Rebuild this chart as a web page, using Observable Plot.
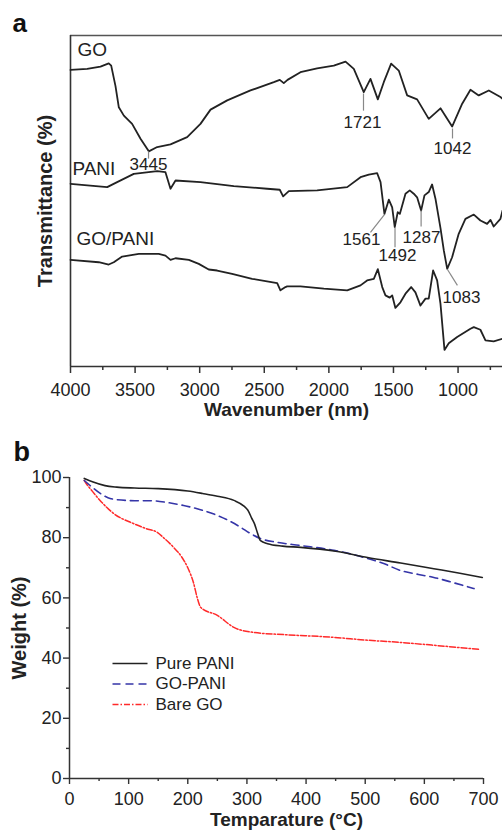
<!DOCTYPE html>
<html><head><meta charset="utf-8">
<script src="https://cdn.jsdelivr.net/npm/d3@7"></script>
<script src="https://cdn.jsdelivr.net/npm/@observablehq/plot@0.6"></script>
<style>
body{margin:0;background:#fff;}
#wrap{position:relative;width:502px;height:830px;overflow:hidden;background:#fff;}
#pa,#pb{position:absolute;left:0;}
#pa{top:0;} #pb{top:420px;}
</style></head><body><div id="wrap"><div id="pa"></div><div id="pb"></div></div>
<script>
// ---------- Panel a: FTIR spectra (transmittance, arbitrary units 0-100) ----------
const goWn = [4000,3871,3768,3704,3685,3652,3626,3587,3523,3458,3394,3329,3226,3097,2994,2916,2787,2607,2426,2380,2349,2320,2220,2091,1962,1871,1807,1730,1678,1621,1575,1518,1459,1394,1317,1227,1136,1046,968,904,840,762,672,656];
const goT  = [89.6,89.9,90.6,91.6,90.9,84.8,78.3,75.8,73.3,68.8,65.0,66.3,67.1,69.3,73.3,77.6,80.4,83.4,85.9,86.6,85.6,86.6,88.9,90.1,90.9,92.1,89.9,82.9,86.9,80.7,85.9,91.5,89.4,81.9,80.7,74.8,78.0,72.5,79.4,83.6,81.9,83.4,81.4,80.9];

const paniWn = [4000,3716,3639,3510,3329,3265,3226,3187,2994,2736,2478,2380,2354,2310,2091,1858,1755,1691,1626,1600,1570,1536,1510,1490,1467,1451,1440,1407,1374,1343,1317,1286,1260,1227,1201,1175,1136,1110,1084,1046,995,943,878,827,775,749,724,672,656];
const paniT  = [55.2,54.2,55.7,58.2,59.0,58.7,53.7,56.2,55.7,54.5,53.7,53.4,51.4,53.0,53.2,54.2,57.2,58.0,58.4,55.7,46.1,50.4,48.1,42.1,46.6,46.1,47.6,52.2,53.2,52.2,51.1,47.1,51.7,52.7,55.0,50.7,41.8,35.0,29.5,33.0,40.1,44.6,45.9,44.1,43.1,44.3,42.3,44.6,47.1];

const gpWn = [4000,3781,3704,3665,3600,3471,3317,3265,3226,3187,3084,3007,2930,2865,2749,2594,2400,2375,2336,2323,2220,2039,1858,1755,1704,1652,1621,1587,1562,1529,1510,1485,1446,1407,1363,1330,1291,1252,1227,1193,1162,1136,1105,1072,1007,904,878,827,788,724,656];
const gpT  = [32.2,31.5,30.8,31.5,33.2,34.0,34.0,33.5,32.2,32.7,32.2,31.0,29.3,29.0,28.0,26.5,25.2,23.0,24.0,24.2,24.2,23.5,23.0,24.5,26.0,26.5,29.4,24.0,21.5,20.8,21.5,17.7,19.4,22.0,24.0,22.4,18.4,20.5,20.5,29.0,26.0,18.9,5.0,7.0,8.9,11.4,11.9,11.1,7.9,7.6,8.4];

const seriesLabelsA = ["GO","PANI","GO/PANI"];
const peakLabels = ["3445","1721","1042","1561","1492","1287","1083"];
const majorTicksA = [4000,3500,3000,2500,2000,1500,1000];
const minorTicksA = [3750,3250,2750,2250,1750,1250,750];

// ---------- Panel b: TGA ----------
const pureT = [25,40,60,80,110,150,200,225,250,278,295,302,308,313,318,323,335,360,391,450,504,560,616,660,698];
const pureW = [99.7,98.5,97.3,96.8,96.5,96.3,95.5,94.7,93.8,92.4,90.5,89,86.5,84.5,81.5,79,78,77.2,76.8,75.5,73.4,71.6,69.7,68.2,66.8];
const goPaniT = [25,40,52,65,81,110,137,165,193,220,250,270,289,305,323,350,391,447,504,530,560,590,616,650,684];
const goPaniW = [99,96.5,94.7,93.3,92.6,92.3,92.3,91.7,90.7,89.4,87.4,85.6,83.5,81.5,79.7,78.5,77.4,75.8,73.1,71.5,69.1,67.8,66.8,65,63.1];
const bareT = [25,30,35,52,75,108,130,149,159,176,190,200,210,216,222,250,278,312,362,447,500,560,620,692];
const bareW = [99,97.5,96.3,92.3,88,84.7,83,81.7,80,76.8,73.5,70,64.8,60,56.8,54.2,50.2,48.5,47.8,46.9,46,45.2,44.2,42.9];
const legendNames = ["Pure PANI","GO-PANI","Bare GO"];
const majorTicksX = [0,100,200,300,400,500,600,700];
const minorTicksX = [50,150,250,350,450,550,650];
const majorTicksY = [0,20,40,60,80,100];
const minorTicksY = [10,30,50,70,90];

const FONT = "'Liberation Sans', Arial, Helvetica, sans-serif";
const INK = "#222";
const zipA = (w, t) => w.map((v, i) => ({w: v, t: t[i]}));

// label layout (in data units of panel a)
const serLay = [{w:3946,t:95.5},{w:3985,t:59.8},{w:3954,t:38.4}];
const peakLay = [
  {w:3396,t:61.0, x1:3396,y1:65.0,x2:3396,y2:62.8},
  {w:1740,t:73.7, x1:1732,y1:82.5,x2:1732,y2:77.3},
  {w:1043,t:65.9, x1:1043,y1:71.9,x2:1043,y2:68.9},
  {w:1748,t:38.4, x1:1570,y1:45.9,x2:1678,y2:40.5},
  {w:1469,t:33.5, x1:1488,y1:42.0,x2:1488,y2:36.0},
  {w:1283,t:39.0, x1:1286,y1:47.1,x2:1286,y2:42.3},
  {w:974, t:20.8, x1:1082,y1:29.3,x2:1005,y2:24.5}
];
const peakData = peakLabels.map((l, i) => ({label: l, ...peakLay[i]}));
const serData = seriesLabelsA.map((l, i) => ({label: l, ...serLay[i]}));

const pa = Plot.plot({
  width: 502, height: 420,
  marginLeft: 70, marginRight: 0, marginTop: 35, marginBottom: 54,
  style: {fontFamily: FONT, fontSize: "18px", color: INK, background: "#fff", overflow: "visible"},
  x: {domain: [4000, 656], axis: null},
  y: {domain: [0, 100], axis: null},
  marks: [
    Plot.ruleY([100], {stroke: "#555", strokeWidth: 1.6}),
    Plot.ruleX([4000], {stroke: "#333", strokeWidth: 1.6}),
    Plot.ruleY([0], {stroke: "#333", strokeWidth: 1.6}),
    Plot.axisX(majorTicksA, {anchor: "bottom", tickSize: 7, tickPadding: 10, fontSize: 18, label: null, stroke: "#333", strokeWidth: 1.5, tickFormat: d => String(d)}),
    Plot.axisX(minorTicksA, {anchor: "bottom", tickSize: 4, label: null, stroke: "#333", strokeWidth: 1.5, tickFormat: () => ""}),
    Plot.line(zipA(goWn, goT), {x: "w", y: "t", stroke: INK, strokeWidth: 1.8}),
    Plot.line(zipA(paniWn, paniT), {x: "w", y: "t", stroke: INK, strokeWidth: 1.8}),
    Plot.line(zipA(gpWn, gpT), {x: "w", y: "t", stroke: INK, strokeWidth: 1.8}),
    Plot.link(peakData, {x1: "x1", y1: "y1", x2: "x2", y2: "y2", stroke: "#888", strokeWidth: 1.2}),
    Plot.text(peakData, {x: "w", y: "t", text: "label", fontSize: 17, fill: INK, lineAnchor: "middle"}),
    Plot.text(serData, {x: "w", y: "t", text: "label", fontSize: 19, fill: INK, textAnchor: "start", lineAnchor: "middle"}),
    Plot.text(["a"], {frameAnchor: "top-left", dx: -58, dy: -12, fontSize: 26, fontWeight: "bold", fill: "#111", textAnchor: "start", lineAnchor: "middle"}),
    Plot.text(["Wavenumber (nm)"], {frameAnchor: "bottom", dy: 43, fontSize: 19, fontWeight: "bold", fill: INK, textAnchor: "middle", lineAnchor: "middle"}),
    Plot.text(["Transmittance (%)"], {frameAnchor: "left", dx: -25, rotate: -90, fontSize: 20, fontWeight: "bold", fill: INK, textAnchor: "middle", lineAnchor: "middle"})
  ]
});
document.getElementById("pa").appendChild(pa);

const zipB = (x, y) => x.map((v, i) => ({T: v, W: y[i]}));
const legStyles = [
  {stroke: "#222", dash: null},
  {stroke: "#3535a8", dash: "8,5"},
  {stroke: "#ff2a2a", dash: "6,2,1.5,2"}
];
const legData = legendNames.map((n, i) => ({name: n, y: 38.2 - i * 6.8}));

const pb = Plot.plot({
  width: 502, height: 410,
  marginLeft: 69, marginRight: 19, marginTop: 57, marginBottom: 52,
  style: {fontFamily: FONT, fontSize: "18px", color: INK, background: "#fff", overflow: "visible"},
  x: {domain: [0, 700], axis: null},
  y: {domain: [0, 100], axis: null},
  marks: [
    Plot.ruleX([0], {y1: 0, y2: 100, stroke: "#333", strokeWidth: 1.5}),
    Plot.ruleY([0], {x1: 0, x2: 700, stroke: "#333", strokeWidth: 1.5}),
    Plot.axisX(majorTicksX, {anchor: "bottom", tickSize: 6, tickPadding: 8, fontSize: 18, label: null, stroke: "#333", strokeWidth: 1.4}),
    Plot.axisX(minorTicksX, {anchor: "bottom", tickSize: 3, label: null, stroke: "#333", strokeWidth: 1.4, tickFormat: () => ""}),
    Plot.axisY(majorTicksY, {anchor: "left", tickSize: 6, tickPadding: 2, fontSize: 18, label: null, stroke: "#333", strokeWidth: 1.4}),
    Plot.axisY(minorTicksY, {anchor: "left", tickSize: 3, label: null, stroke: "#333", strokeWidth: 1.4, tickFormat: () => ""}),
    Plot.line(zipB(bareT, bareW), {x: "T", y: "W", stroke: legStyles[2].stroke, strokeWidth: 1.5, strokeDasharray: legStyles[2].dash, curve: "monotone-x"}),
    Plot.line(zipB(goPaniT, goPaniW), {x: "T", y: "W", stroke: legStyles[1].stroke, strokeWidth: 1.6, strokeDasharray: legStyles[1].dash, curve: "monotone-x"}),
    Plot.line(zipB(pureT, pureW), {x: "T", y: "W", stroke: legStyles[0].stroke, strokeWidth: 1.6, curve: "monotone-x"}),
    ...legData.map((d, i) => Plot.link([d], {x1: () => 72.7, x2: () => 131.9, y1: "y", y2: "y", stroke: legStyles[i].stroke, strokeWidth: 1.6, strokeDasharray: legStyles[i].dash})),
    Plot.text(legData, {x: () => 145.4, y: "y", text: "name", fontSize: 17, fill: INK, textAnchor: "start", lineAnchor: "middle"}),
    Plot.text(["b"], {frameAnchor: "top-left", dx: -56, dy: -25, fontSize: 27, fontWeight: "bold", fill: "#111", textAnchor: "start", lineAnchor: "middle"}),
    Plot.text(["Temparature (°C)"], {frameAnchor: "bottom", dx: 10, dy: 41, fontSize: 19, fontWeight: "bold", fill: INK, textAnchor: "middle", lineAnchor: "middle"}),
    Plot.text(["Weight (%)"], {frameAnchor: "left", dx: -50, rotate: -90, fontSize: 20, fontWeight: "bold", fill: INK, textAnchor: "middle", lineAnchor: "middle"})
  ]
});
document.getElementById("pb").appendChild(pb);
</script>
</body></html>
